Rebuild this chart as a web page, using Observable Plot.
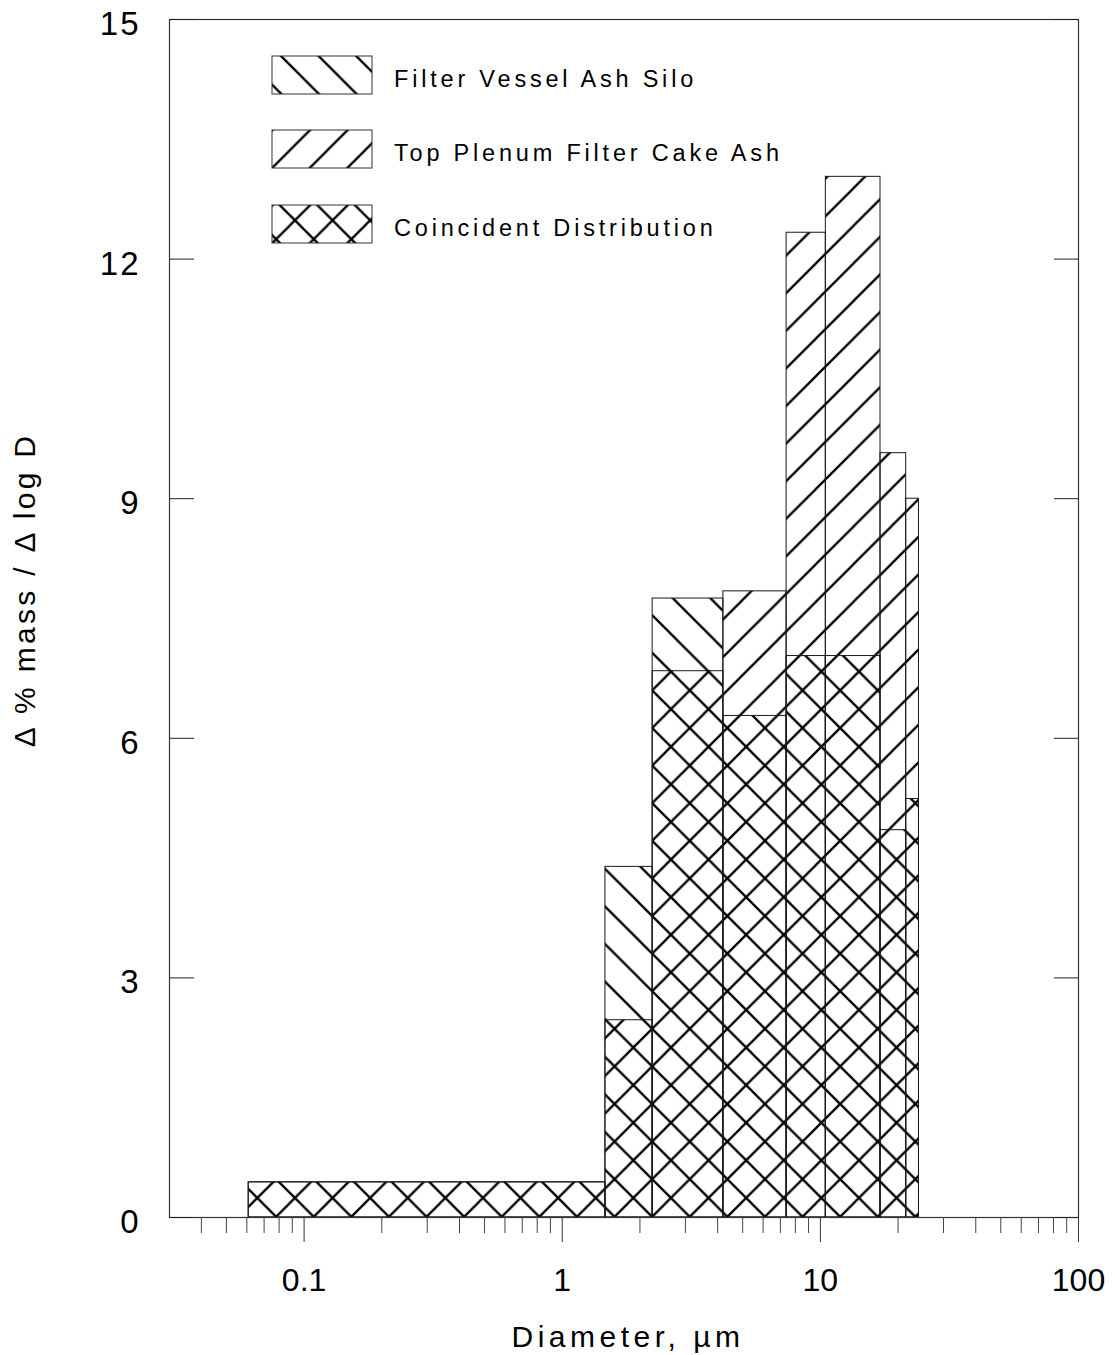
<!DOCTYPE html>
<html>
<head>
<meta charset="utf-8">
<script src="https://cdn.jsdelivr.net/npm/d3@7"></script>
<script src="https://cdn.jsdelivr.net/npm/@observablehq/plot@0.6"></script>
<style>
  html, body { margin: 0; padding: 0; background: #fff; }
  #chart { width: 1115px; height: 1355px; }
  #chart svg text { font-family: "Liberation Sans", Arial, sans-serif; }
</style>
</head>
<body>
<div id="chart"></div>
<script>
// ---- Data ----
const binLower = [0.061, 1.47, 2.24, 4.21, 7.4, 10.5, 17.1, 21.5];
const binUpper = [1.47, 2.24, 4.21, 7.4, 10.5, 17.1, 21.5, 24.1];
const filterVesselAshSilo = [0.44, 4.39, 7.75, 6.28, 7.03, 7.03, 4.85, 5.24];
const topPlenumFilterCakeAsh = [0.44, 2.47, 6.84, 7.84, 12.33, 13.03, 9.57, 9.0];
const seriesNames = ["Filter Vessel Ash Silo", "Top Plenum Filter Cake Ash", "Coincident Distribution"];
const yTicks = [0, 3, 6, 9, 12, 15];
const xMajorTicks = [0.1, 1, 10, 100];
const xTickLabels = ["0.1", "1", "10", "100"];
const xMinorTicks = [0.04, 0.05, 0.06, 0.07, 0.08, 0.09,
                     0.2, 0.3, 0.4, 0.5, 0.6, 0.7, 0.8, 0.9,
                     2, 3, 4, 5, 6, 7, 8, 9,
                     20, 30, 40, 50, 60, 70, 80, 90];
const xLabel = "Diameter, \u00b5m";
const yLabel = "\u0394 % mass / \u0394 log D";

const bins = binLower.map((lo, i) => ({
  lo, hi: binUpper[i], fv: filterVesselAshSilo[i], tp: topPlenumFilterCakeAsh[i]
}));

const W = 1115, H = 1355;
const mL = 169, mR = 37, mT = 19, mB = 138;

const chart = Plot.plot({
  width: W, height: H,
  marginLeft: mL, marginRight: mR, marginTop: mT, marginBottom: mB,
  style: { background: "white", color: "black", fontFamily: "'Liberation Sans', Arial, sans-serif" },
  x: { type: "log", domain: [0.0301, 100] },
  y: { domain: [0, 15] },
  marks: [
    Plot.rectY(bins, { x1: "lo", x2: "hi", y1: 0, y2: "tp", fill: "url(#hatchTP)", stroke: "#1a1a1a", strokeWidth: 1 }),
    Plot.rectY(bins, { x1: "lo", x2: "hi", y1: 0, y2: "fv", fill: "url(#hatchFV)", stroke: "#1a1a1a", strokeWidth: 1 }),
    Plot.frame({ stroke: "#333", strokeWidth: 1.2 }),
    // y ticks inward on left and right
    Plot.axisY({ anchor: "left", ticks: yTicks, tickSize: -25, fill: "none", label: null, stroke: "#222" }),
    Plot.axisY({ anchor: "right", ticks: yTicks, tickSize: -25, fill: "none", label: null, stroke: "#222" }),
    Plot.axisY({ anchor: "left", ticks: yTicks, tickSize: 0, tickPadding: 29, fontSize: 33, dy: 5, label: null,
                 tickFormat: d => String(d) }),
    // x ticks outward
    Plot.axisX({ anchor: "bottom", ticks: xMinorTicks, tickSize: 16, fill: "none", label: null, stroke: "#444" }),
    Plot.axisX({ anchor: "bottom", ticks: xMajorTicks, tickSize: 25, tickPadding: 26, fontSize: 32, label: null, stroke: "#333",
                 tickFormat: d => xTickLabels[xMajorTicks.indexOf(d)] })
  ]
});

document.getElementById("chart").appendChild(chart);

const svg = d3.select(chart);
svg.selectAll("[aria-label='y-axis tick label'] text").attr("letter-spacing", "2px");

// hatch patterns
const P = 37.6;
const defs = svg.insert("defs", ":first-child");
function hatch(id, forward, ox, oy) {
  const p = defs.append("pattern")
    .attr("id", id).attr("patternUnits", "userSpaceOnUse")
    .attr("x", ox).attr("y", oy).attr("width", P).attr("height", P);
  const d = forward
    ? `M-3,${P + 3}L${P + 3},-3 M-3,3L3,-3 M${P - 3},${P + 3}L${P + 3},${P - 3}`
    : `M-3,-3L${P + 3},${P + 3} M-3,${P - 3}L3,${P + 3} M${P - 3},-3L${P + 3},3`;
  p.append("path").attr("d", d).attr("stroke", "#000").attr("stroke-width", 2.3).attr("fill", "none");
}
hatch("hatchTP", true, 26.5, 0);
hatch("hatchFV", false, 0, 0.6);

// legend
const legendX = 272, legendW = 100, legendH = 38;
const legendY = [56, 130, 205];
const fills = [["url(#hatchFV)"], ["url(#hatchTP)"], ["url(#hatchFV)", "url(#hatchTP)"]];
const lg = svg.append("g").attr("text-anchor", "start");
seriesNames.forEach((name, i) => {
  fills[i].forEach(f => {
    lg.append("rect").attr("x", legendX).attr("y", legendY[i]).attr("width", legendW).attr("height", legendH)
      .attr("fill", f);
  });
  lg.append("rect").attr("x", legendX).attr("y", legendY[i]).attr("width", legendW).attr("height", legendH)
    .attr("fill", "none").attr("stroke", "#333").attr("stroke-width", 1);
  lg.append("text").attr("x", 394).attr("y", legendY[i] + 31)
    .attr("text-anchor", "start")
    .attr("font-size", 23.5).attr("letter-spacing", "3.8px").attr("fill", "#000")
    .text(name);
});

// axis titles
svg.append("text").attr("x", 628).attr("y", 1347).attr("text-anchor", "middle")
  .attr("font-size", 30).attr("letter-spacing", "4.5px").attr("fill", "#000").text(xLabel);
svg.append("text").attr("transform", "translate(35,590) rotate(-90)").attr("text-anchor", "middle")
  .attr("font-size", 30).attr("letter-spacing", "3.3px").attr("fill", "#000").text(yLabel);
</script>
</body>
</html>
